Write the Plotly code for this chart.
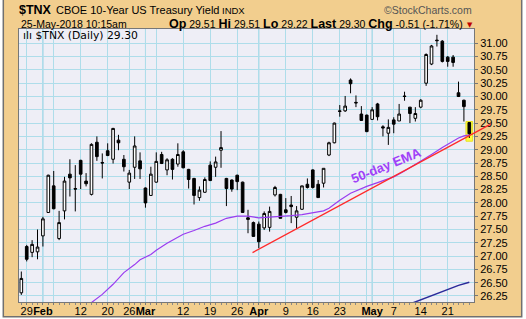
import plotly.graph_objects as go

# ---------------- data ----------------
DATES = [
    "2018-01-26", "2018-01-29", "2018-01-30", "2018-01-31", "2018-02-01", "2018-02-02",
    "2018-02-05", "2018-02-06", "2018-02-07", "2018-02-08", "2018-02-09",
    "2018-02-12", "2018-02-13", "2018-02-14", "2018-02-15", "2018-02-16",
    "2018-02-20", "2018-02-21", "2018-02-22", "2018-02-23",
    "2018-02-26", "2018-02-27", "2018-02-28", "2018-03-01", "2018-03-02",
    "2018-03-05", "2018-03-06", "2018-03-07", "2018-03-08", "2018-03-09",
    "2018-03-12", "2018-03-13", "2018-03-14", "2018-03-15", "2018-03-16",
    "2018-03-19", "2018-03-20", "2018-03-21", "2018-03-22", "2018-03-23",
    "2018-03-26", "2018-03-27", "2018-03-28", "2018-03-29",
    "2018-04-02", "2018-04-03", "2018-04-04", "2018-04-05", "2018-04-06",
    "2018-04-09", "2018-04-10", "2018-04-11", "2018-04-12", "2018-04-13",
    "2018-04-16", "2018-04-17", "2018-04-18", "2018-04-19", "2018-04-20",
    "2018-04-23", "2018-04-24", "2018-04-25", "2018-04-26", "2018-04-27",
    "2018-04-30", "2018-05-01", "2018-05-02", "2018-05-03", "2018-05-04",
    "2018-05-07", "2018-05-08", "2018-05-09", "2018-05-10", "2018-05-11",
    "2018-05-14", "2018-05-15", "2018-05-16", "2018-05-17", "2018-05-18",
    "2018-05-21", "2018-05-22", "2018-05-23", "2018-05-24", "2018-05-25",
]
OPEN = [26.31, 27.18, 27.07, 27.08, 27.38, 27.82, 28.32, 27.33, 27.85, 28.54, 28.27,
        28.80, 28.41, 28.16, 29.14, 28.76, 28.98, 28.82, 29.18, 28.82, 28.39, 28.67,
        28.79, 28.28, 28.14, 28.39, 28.91, 28.62, 28.82, 28.73, 28.96, 28.63, 28.46,
        28.10, 28.20, 28.71, 28.67, 28.99, 28.46, 28.43, 28.52, 28.39, 27.72, 27.63,
        27.60, 27.53, 27.54, 28.15, 28.16, 27.87, 27.96, 27.73, 27.88, 28.35, 28.62,
        28.35, 28.37, 28.90, 29.13, 29.73, 29.73, 30.31, 29.89, 29.67, 29.65, 29.57,
        29.86, 29.43, 29.31, 29.56, 29.54, 30.01, 29.80, 29.59, 29.80, 30.25, 30.61,
        31.06, 31.04, 30.74, 30.74, 30.07, 29.93, 29.51]
HIGH = [26.71, 27.21, 27.30, 27.50, 27.74, 28.53, 28.60, 27.85, 28.49, 28.82, 28.71,
        28.81, 28.56, 29.12, 29.25, 28.93, 29.12, 29.41, 29.28, 28.90, 28.62, 29.25,
        28.95, 28.29, 28.68, 28.95, 28.96, 28.84, 28.84, 29.12, 28.99, 28.64, 28.47,
        28.31, 28.48, 28.78, 28.87, 29.35, 28.47, 28.44, 28.53, 28.40, 27.87, 27.65,
        27.65, 27.84, 27.93, 28.32, 28.17, 28.09, 28.13, 27.94, 28.32, 28.46, 28.63,
        28.43, 28.65, 29.15, 29.51, 29.84, 30.01, 30.34, 30.02, 29.82, 29.66, 29.80,
        29.88, 29.46, 29.57, 29.61, 29.86, 30.09, 29.80, 29.80, 29.95, 30.81, 30.97,
        31.16, 31.06, 30.76, 30.78, 30.28, 29.94, 29.51]
LOW = [26.27, 26.90, 26.98, 26.94, 27.18, 27.81, 27.88, 27.30, 27.69, 28.12, 27.84,
       28.26, 28.31, 28.14, 28.79, 28.46, 28.88, 28.74, 28.99, 28.59, 28.26, 28.45,
       28.45, 27.91, 28.13, 28.38, 28.73, 28.52, 28.44, 28.68, 28.65, 28.27, 27.97,
       28.04, 28.19, 28.41, 28.49, 28.66, 27.94, 28.21, 28.24, 27.81, 27.43, 27.36,
       27.15, 27.49, 27.46, 28.12, 27.71, 27.80, 27.62, 27.52, 27.87, 28.27, 28.27,
       28.10, 28.29, 28.88, 29.12, 29.62, 29.71, 30.06, 29.80, 29.54, 29.33, 29.56,
       29.55, 29.25, 29.09, 29.31, 29.54, 29.92, 29.50, 29.53, 29.78, 30.20, 30.59,
       30.94, 30.64, 30.56, 30.56, 29.99, 29.53, 29.22]
CLOSE = [26.58, 26.94, 27.22, 27.17, 27.70, 28.52, 27.89, 27.63, 28.41, 28.47, 28.26,
         28.54, 28.36, 29.10, 28.87, 28.75, 28.89, 29.40, 29.13, 28.68, 28.56, 29.07,
         28.64, 28.00, 28.54, 28.78, 28.74, 28.81, 28.63, 28.91, 28.66, 28.44, 28.14,
         28.24, 28.44, 28.42, 28.77, 29.04, 28.27, 28.26, 28.40, 27.82, 27.69, 27.37,
         27.27, 27.80, 27.84, 28.29, 27.71, 27.82, 27.93, 27.85, 28.32, 28.29, 28.29,
         28.10, 28.65, 29.13, 29.50, 29.72, 29.82, 30.24, 29.88, 29.55, 29.34, 29.75,
         29.62, 29.41, 29.42, 29.48, 29.67, 30.00, 29.68, 29.68, 29.93, 30.79, 30.95,
         31.05, 30.66, 30.66, 30.64, 30.00, 29.81, 29.30]

EMA50_DATES = ["2018-02-13", "2018-02-14", "2018-02-16", "2018-02-21", "2018-02-23",
               "2018-02-27", "2018-02-28", "2018-03-02", "2018-03-05", "2018-03-07",
               "2018-03-09", "2018-03-12", "2018-03-14", "2018-03-16", "2018-03-20",
               "2018-03-22", "2018-03-26", "2018-03-28", "2018-04-02", "2018-04-04",
               "2018-04-06", "2018-04-10", "2018-04-12", "2018-04-16", "2018-04-18",
               "2018-04-19", "2018-04-23", "2018-04-25", "2018-04-30", "2018-05-02",
               "2018-05-07", "2018-05-09", "2018-05-14", "2018-05-16", "2018-05-18",
               "2018-05-22", "2018-05-23", "2018-05-24", "2018-05-25"]
EMA50 = [26.05, 26.13, 26.28, 26.47, 26.69, 26.84, 26.93, 27.03, 27.11, 27.24,
         27.36, 27.41, 27.48, 27.56, 27.62, 27.71, 27.75, 27.75, 27.72, 27.73,
         27.75, 27.76, 27.78, 27.81, 27.85, 27.90, 28.05, 28.18, 28.31, 28.38,
         28.49, 28.60, 28.78, 28.91, 29.04, 29.17, 29.22, 29.26, 29.28]

EMA200_DATES = ["2018-05-10", "2018-05-14", "2018-05-16", "2018-05-17",
                "2018-05-21", "2018-05-23", "2018-05-25"]
EMA200 = [26.10, 26.18, 26.25, 26.29, 26.38, 26.45, 26.51]

# trend line (x in trading-day units, y in yield units)
TREND_X = [42.56, 86.96]
TREND_Y = [27.05, 29.48]

GRID_DATES = ["2018-01-29", "2018-02-01", "2018-02-05", "2018-02-12", "2018-02-20",
              "2018-02-26", "2018-03-01", "2018-03-05", "2018-03-12", "2018-03-19",
              "2018-03-26", "2018-04-02", "2018-04-09", "2018-04-16", "2018-04-23",
              "2018-04-30", "2018-05-01", "2018-05-07", "2018-05-14", "2018-05-21"]
GRID_LABELS = ["29", "<b>Feb</b>", "", "12", "20", "26", "<b>Mar</b>", "", "12", "19",
               "26", "<b>Apr</b>", "9", "16", "23", "", "<b>May</b>", "7", "14", "21"]
MONTH_STARTS = ["2018-02-01", "2018-03-01", "2018-04-02", "2018-05-01"]
Y_TICKS = [26.25, 26.50, 26.75, 27.00, 27.25, 27.50, 27.75, 28.00, 28.25, 28.50,
           28.75, 29.00, 29.25, 29.50, 29.75, 30.00, 30.25, 30.50, 30.75, 31.00]

SYMBOL = "$TNX"
TITLE = "CBOE 10-Year US Treasury Yield"
STAMP = "25-May-2018 10:15am"

# ---------------- figure ----------------
idx = {d: i for i, d in enumerate(DATES)}
X = list(range(len(DATES)))

TAN = "#F2CE8E"
PLOTBG = "#EEEEF6"
GRID = "#AEDDEA"
FONT = "Liberation Sans, Arial, sans-serif"

L, R, T, B = 19, 52, 29, 17
W, H = 526, 319
PW, PH = W - L - R, H - T - B


def px(x):
    return (x - L) / PW


def py(y):
    return (H - B - y) / PH


fig = go.Figure()

fig.add_trace(go.Scatter(
    x=[idx[d] for d in EMA50_DATES], y=EMA50, mode="lines",
    line=dict(color="#9A3CF0", width=1.2), showlegend=False, hoverinfo="skip"))
fig.add_trace(go.Scatter(
    x=[idx[d] for d in EMA200_DATES], y=EMA200, mode="lines",
    line=dict(color="#2A2A9A", width=1.5), showlegend=False, hoverinfo="skip"))

fig.add_trace(go.Candlestick(
    x=X, open=OPEN, high=HIGH, low=LOW, close=CLOSE,
    increasing=dict(line=dict(color="black", width=1), fillcolor="white"),
    decreasing=dict(line=dict(color="black", width=1), fillcolor="black"),
    whiskerwidth=0, showlegend=False, hoverinfo="skip"))

last = len(DATES) - 1
shapes = [
    # tan chart frame
    dict(type="rect", xref="paper", yref="paper", layer="below",
         x0=px(3.3), x1=px(521.7), y0=py(316.7), y1=py(-5),
         fillcolor=TAN, line=dict(color="#707070", width=1.5)),
    # plot background
    dict(type="rect", xref="paper", yref="paper", layer="below",
         x0=0, x1=1, y0=0, y1=1, fillcolor=PLOTBG, line=dict(width=0)),
    # yellow highlight of the latest candle
    dict(type="rect", xref="x", yref="y", layer="between",
         x0=last - 0.62, x1=last + 0.62, y0=LOW[last] - 0.06, y1=HIGH[last] + 0.02,
         fillcolor="#FFFF40", line=dict(color="#E6E020", width=1)),
]
for d in MONTH_STARTS:
    shapes.append(dict(type="line", xref="x", yref="paper", layer="between",
                       x0=idx[d], x1=idx[d], y0=0, y1=1,
                       line=dict(color="#86C9DE", width=1)))

chg = CLOSE[-1] - CLOSE[-2]
pct = chg / CLOSE[-2] * 100
bl = "<span style='font-size:12.5px'><b>%s</b></span>"
ohlc = (bl % "Op" + " %.2f " % OPEN[-1] + bl % "Hi" + " %.2f " % HIGH[-1] +
        bl % "Lo" + " %.2f " % LOW[-1] + bl % "Last" + " %.2f " % CLOSE[-1] +
        bl % "Chg" + " %.2f (%.2f%%)" % (chg, pct))

ann = [
    dict(xref="paper", yref="paper", x=px(17), y=py(9.5), xanchor="left", yanchor="middle",
         text="<b>%s</b>" % SYMBOL, showarrow=False, font=dict(family=FONT, size=12.5, color="black")),
    dict(xref="paper", yref="paper", x=px(53.5), y=py(10), xanchor="left", yanchor="middle",
         text=TITLE, showarrow=False, font=dict(family=FONT, size=11, color="black")),
    dict(xref="paper", yref="paper", x=px(220), y=py(10.5), xanchor="left", yanchor="middle",
         text="INDX", showarrow=False, font=dict(family=FONT, size=9.5, color="black")),
    dict(xref="paper", yref="paper", x=px(474), y=py(9.5), xanchor="right", yanchor="middle",
         text="©StockCharts.com", showarrow=False, font=dict(family=FONT, size=10.5, color="#555555")),
    dict(xref="paper", yref="paper", x=px(18.5), y=py(23.5), xanchor="left", yanchor="middle",
         text=STAMP, showarrow=False, font=dict(family=FONT, size=10.5, color="black")),
    dict(xref="paper", yref="paper", x=px(465), y=py(23.5), xanchor="right", yanchor="middle",
         text=ohlc, showarrow=False, font=dict(family=FONT, size=10.5, color="black")),
    dict(xref="paper", yref="paper", x=px(469.7), y=py(25), xanchor="center", yanchor="middle",
         text="▼", showarrow=False, font=dict(family="DejaVu Sans", size=7, color="#C00000")),
    dict(xref="paper", yref="paper", x=px(21), y=py(35.7), xanchor="left", yanchor="middle",
         text="ılı %s (Daily) %.2f" % (SYMBOL, CLOSE[-1]), showarrow=False,
         font=dict(family="DejaVu Sans", size=10.8, color="black")),
    dict(xref="x", yref="y", x=67.6, y=28.71, text="<b>50-day EMA</b>", textangle=-22,
         showarrow=False, font=dict(family=FONT, size=13, color="#A040F8")),
    dict(xref="x", yref="y", axref="x", ayref="y",
         x=TREND_X[1], y=TREND_Y[1], ax=TREND_X[0], ay=TREND_Y[0],
         text="", showarrow=True, arrowhead=0, arrowwidth=1.3, arrowcolor="#FF2A2A",
         standoff=0, startstandoff=0),
]

fig.update_layout(
    width=W, height=H,
    margin=dict(l=L, r=R, t=T, b=B, pad=0, autoexpand=False),
    paper_bgcolor="white", plot_bgcolor=PLOTBG,
    font=dict(family=FONT, size=11, color="black"),
    shapes=shapes, annotations=ann, showlegend=False,
    xaxis=dict(
        range=[-0.43, 83.87], rangeslider=dict(visible=False),
        tickmode="array", tickvals=[idx[d] for d in GRID_DATES], ticktext=GRID_LABELS,
        tickangle=0, automargin=False, ticklabelstandoff=-3,
        showgrid=True, gridcolor=GRID, gridwidth=1, zeroline=False,
        ticks="outside", ticklen=2, tickcolor="#777777",
        tickfont=dict(family=FONT, size=11, color="black"),
        minor=dict(tickmode="linear", tick0=0, dtick=1, ticks="outside", ticklen=2,
                   tickcolor="#888888", showgrid=False),
        showline=True, linecolor="#777777", linewidth=1, mirror=True,
        fixedrange=True,
    ),
    yaxis=dict(
        range=[26.137, 31.269], side="right", automargin=False,
        tickmode="array", tickvals=Y_TICKS, tickformat=".2f",
        showgrid=True, gridcolor=GRID, gridwidth=1, zeroline=False,
        ticks="outside", ticklen=3, tickcolor="#777777",
        tickfont=dict(family=FONT, size=11, color="black"),
        showline=True, linecolor="#777777", linewidth=1, mirror=True,
        fixedrange=True,
    ),
)

fig.write_html("out.html")
